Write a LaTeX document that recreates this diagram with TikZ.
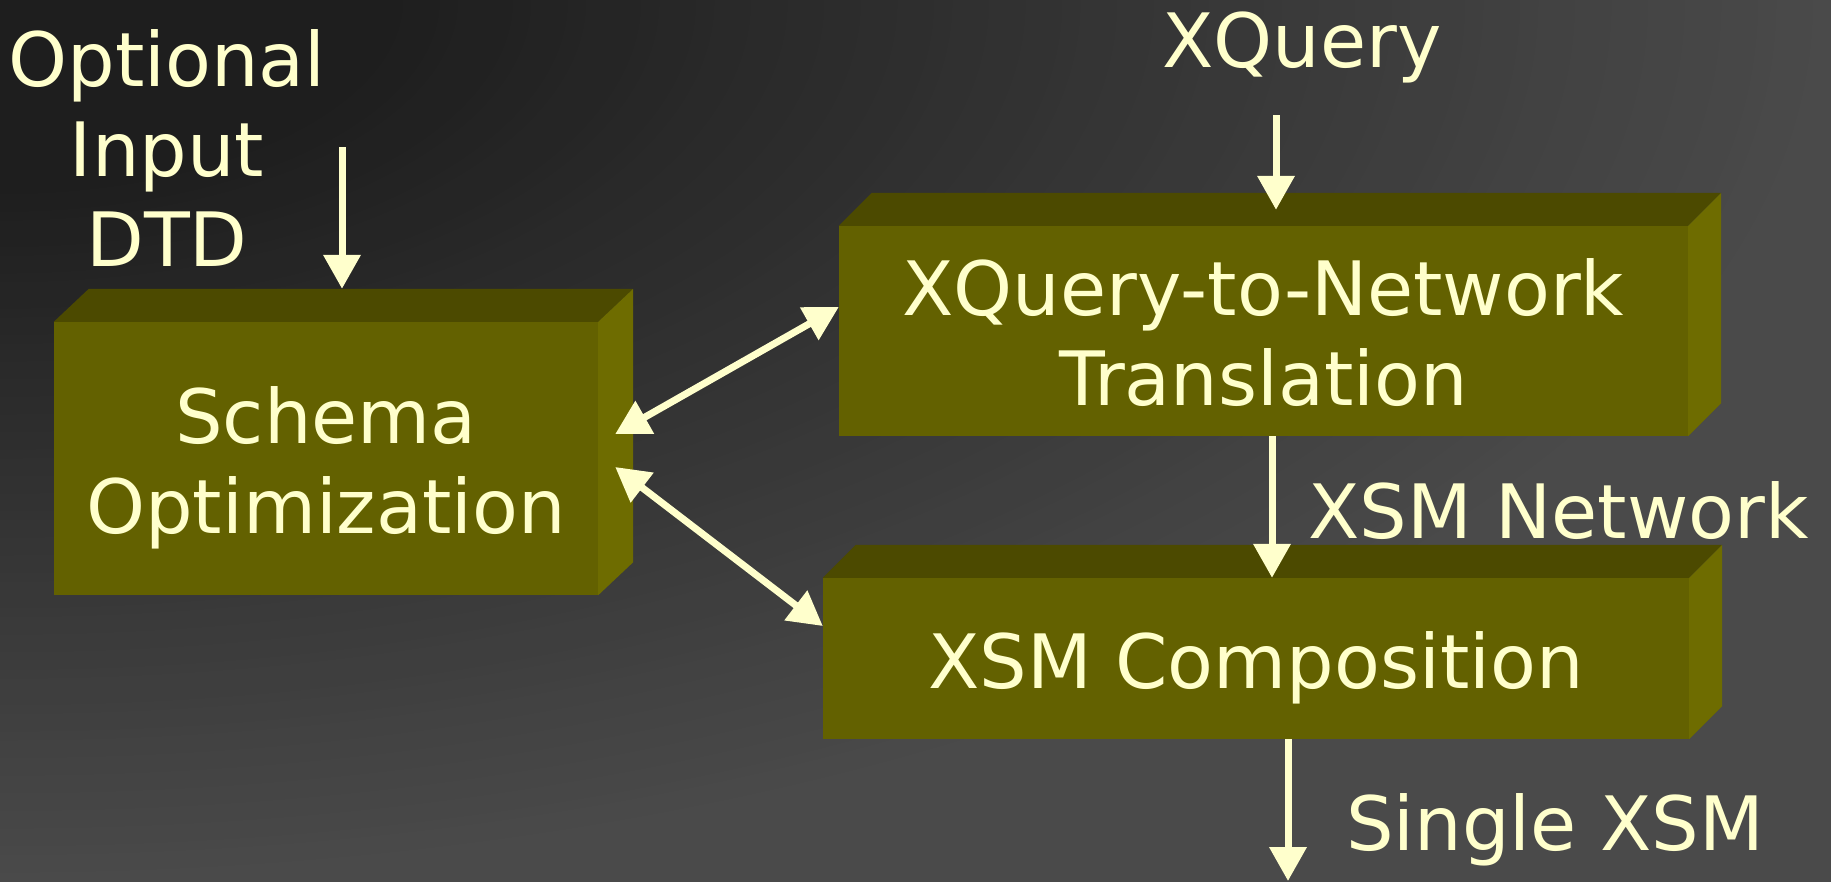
\documentclass[tikz,border=0pt]{standalone}
\usepackage{fontspec}
\setmainfont{DejaVu Sans}
\usetikzlibrary{arrows.meta,calc}

\definecolor{bgdark}{HTML}{1E1E1E}
\definecolor{bglight}{HTML}{4A4A4A}
\definecolor{boxfront}{HTML}{636100}
\definecolor{boxtop}{HTML}{4C4A00}
\definecolor{boxside}{HTML}{6E6C00}
\definecolor{ink}{HTML}{FFFFCC}

% top and right faces of a block, drawn from the corners of its front node
\newcommand\blockfaces[3]{%
  \fill[boxtop] (#1.north west) -- ++(#2,-#3) -- ($(#1.north east)+(#2,-#3)$) -- (#1.north east) -- cycle;
  \fill[boxside] (#1.north east) -- ++(#2,-#3) -- ($(#1.south east)+(#2,-#3)$) -- (#1.south east) -- cycle;
}

\begin{document}
\begin{tikzpicture}[x=1pt,y=-1pt,
  txt/.style={text=ink, font=\fontsize{75}{90}\selectfont, inner sep=0pt},
  block/.style n args={4}{txt, fill=boxfront, align=center,
    minimum width=#1, minimum height=#2, text height=#3, text depth=#4},
  flow/.style={draw=ink, line width=7pt, -{Triangle[length=34pt,width=36pt]}},
  twoway/.style={draw=ink, line width=7pt,
    {Triangle[length=34pt,width=36pt]}-{Triangle[length=34pt,width=36pt]}},
]
% background: dark in the upper left corner, lighter grey towards the far edges
\useasboundingbox (0,0) rectangle (1831,881);
\fill[bglight] (-10,-10) rectangle (1841,891);
\begin{scope}
  \clip (-10,-10) rectangle (1841,891);
  \foreach \u in {100,99,...,21}{
    \pgfmathtruncatemacro\mix{(\u-21)/79*100}
    \fill[bglight!\mix!bgdark] (0,0) ellipse ({\u*18.31pt} and {\u*8.81pt});
  }
\end{scope}

% blocks
\node[block={544pt}{273pt}{150pt}{1pt}] (schema) at (326,458.5) {Schema\\Optimization};
\node[block={849pt}{210pt}{150pt}{2pt}] (xlate) at (1263.5,331) {XQuery-to-Network\\Translation};
\node[block={866pt}{161pt}{75pt}{16pt}] (compose) at (1256,658.5) {XSM Composition};
\blockfaces{schema}{35}{33}
\blockfaces{xlate}{33}{33}
\blockfaces{compose}{33}{33}

% free labels
\node[txt, align=center, anchor=base] (dtd) at (167,266) {Optional\\Input\\DTD};
\node[txt, anchor=base] (xquery) at (1302,67) {XQuery};
\node[txt, anchor=base west] (netlbl) at (1308,538) {XSM Network};
\node[txt, anchor=base west] (single) at (1346,850) {Single XSM};

% connectors
\coordinate (dtdin) at (342,147);
\coordinate (xqin) at (1276,115);
\coordinate (netx) at (1272,0);
\coordinate (result) at (1288,881);
\draw[flow] (dtdin) -- ($(dtdin |- schema.north)+(0,-33)$);
\draw[flow] (xqin) -- ($(xqin |- xlate.north)+(0,-16)$);
\draw[flow] (xlate.south -| netx) -- (compose.north -| netx);
\draw[flow] (compose.south -| result) -- (result);
\draw[twoway] ([shift={(17,-24.5)}]schema.east) -- ([shift={(0,-24)}]xlate.west);
\draw[twoway] ([shift={(17,8.5)}]schema.east) -- ([shift={(0,-32.5)}]compose.west);
\end{tikzpicture}
\end{document}
